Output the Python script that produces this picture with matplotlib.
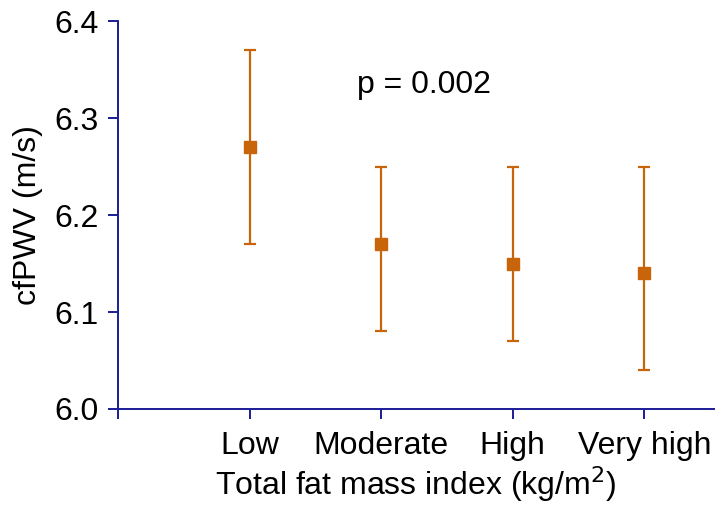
import numpy as np
import matplotlib.pyplot as plt

plt.rcParams['font.family'] = ['Liberation Sans', 'DejaVu Sans']

# cfPWV by total fat mass index category
groups = ["Low", "Moderate", "High", "Very high"]
means = [6.27, 6.17, 6.15, 6.14]
lower = [6.17, 6.08, 6.07, 6.04]
upper = [6.37, 6.25, 6.25, 6.25]

axis_col = "#1c1c96"
mark_col = "#c8650a"
fs = 23

fig = plt.figure(figsize=(7.25, 5.09), dpi=100)
ax = fig.add_axes([0.1628, 0.1965, 0.822, 0.762])

x = np.arange(1, len(groups) + 1)
m = np.array(means)
yerr = [m - np.array(lower), np.array(upper) - m]
ax.errorbar(x, m, yerr=yerr, fmt="s", color=mark_col, ecolor=mark_col,
            markersize=8.5, elinewidth=1.6, capsize=4, capthick=1.6)

ax.set_xlim(0, 4.53)
ax.set_ylim(6.0, 6.4)
ax.set_yticks([6.0, 6.1, 6.2, 6.3, 6.4])
ax.set_xticks([0] + list(x))
ax.set_xticklabels([""] + groups)

for side in ["top", "right"]:
    ax.spines[side].set_visible(False)
for side in ["left", "bottom"]:
    ax.spines[side].set_color(axis_col)
    ax.spines[side].set_linewidth(1.4)
ax.tick_params(colors=axis_col, labelcolor="black", labelsize=fs,
               width=1.4, length=7)
ax.tick_params(axis="y", pad=7)
ax.tick_params(axis="x", pad=9)

ax.set_ylabel("cfPWV (m/s)", fontsize=fs, labelpad=8)
ax.set_xlabel("Total fat mass index (kg/m$^2$)", fontsize=fs, labelpad=2)
ax.text(1.82, 6.334, "p = 0.002", fontsize=fs, va="center")

fig.savefig("out.png", dpi=100)
